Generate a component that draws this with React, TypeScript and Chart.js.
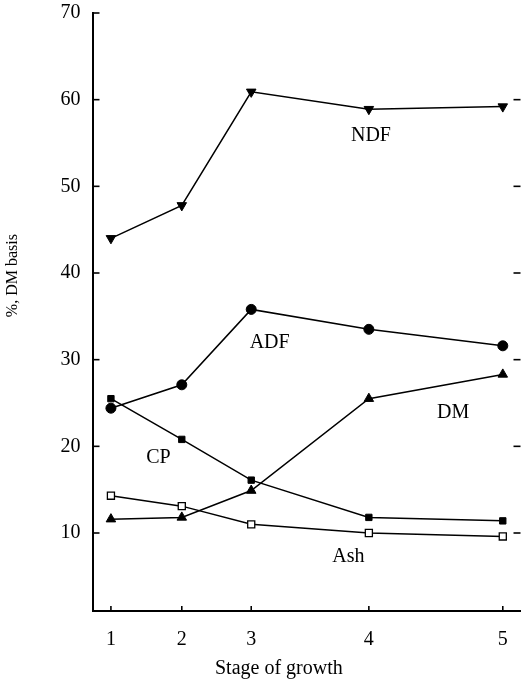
import React, { useEffect, useRef } from "react";
import { Chart, registerables } from "chart.js";

Chart.register(...registerables);

// Stage positions on the (non-uniform) growth axis, and their labels
const stageX = [1, 2, 2.98, 4.64, 6.53];
const stageLabels = ["1", "2", "3", "4", "5"];

// Series values (% DM basis)
const ndf = [44.0, 47.8, 60.9, 58.9, 59.2];
const adf = [24.4, 27.1, 35.8, 33.5, 31.6];
const cp = [25.5, 20.8, 16.1, 11.8, 11.4];
const dm = [11.6, 11.8, 14.9, 25.5, 28.3];
const ash = [14.3, 13.1, 11.0, 10.0, 9.6];

const yTicks = [10, 20, 30, 40, 50, 60, 70];

// Series annotation labels, in data coordinates
const seriesLabels = [
  { text: "NDF", x: 4.67, y: 55.8 },
  { text: "ADF", x: 3.24, y: 31.9 },
  { text: "DM", x: 5.83, y: 23.9 },
  { text: "CP", x: 1.67, y: 18.7 },
  { text: "Ash", x: 4.35, y: 7.3 },
];

const xTitle = "Stage of growth";
const xTitleAt = 3.37;
const yTitle = "%, DM basis";
const yTitleAt = 39.7;

const FONT = "'Liberation Serif', 'Times New Roman', serif";

const pts = (vals: number[]) => vals.map((v, i) => ({ x: stageX[i], y: v }));

export default function App() {
  const ref = useRef<HTMLCanvasElement | null>(null);

  useEffect(() => {
    if (!ref.current) return;

    const decor = {
      id: "decor",
      afterDraw(chart: any) {
        const ctx = chart.ctx;
        const { left, right, bottom } = chart.chartArea;
        const xs = chart.scales.x;
        const ys = chart.scales.y;
        ctx.save();
        ctx.strokeStyle = "#000";
        ctx.lineWidth = 1.6;
        // inward y ticks (left and right)
        yTicks.forEach((v) => {
          const py = ys.getPixelForValue(v);
          ctx.beginPath();
          ctx.moveTo(left, py);
          ctx.lineTo(left + 7, py);
          ctx.stroke();
          if (v < 70) {
            ctx.beginPath();
            ctx.moveTo(right, py);
            ctx.lineTo(right - 7, py);
            ctx.stroke();
          }
        });
        // inward x ticks
        stageX.forEach((v) => {
          const px = xs.getPixelForValue(v);
          ctx.beginPath();
          ctx.moveTo(px, bottom);
          ctx.lineTo(px, bottom - 5);
          ctx.stroke();
        });
        // series labels
        ctx.fillStyle = "#000";
        ctx.font = `20px ${FONT}`;
        ctx.textAlign = "center";
        ctx.textBaseline = "middle";
        seriesLabels.forEach((l) => {
          ctx.fillText(l.text, xs.getPixelForValue(l.x), ys.getPixelForValue(l.y));
        });
        // x title
        ctx.font = `20px ${FONT}`;
        ctx.fillText(xTitle, xs.getPixelForValue(xTitleAt), bottom + 58);
        // y title
        ctx.font = `16px ${FONT}`;
        ctx.translate(13, ys.getPixelForValue(yTitleAt));
        ctx.rotate(-Math.PI / 2);
        ctx.fillText(yTitle, 0, 0);
        ctx.restore();
      },
    };

    const common = {
      borderColor: "#000",
      borderWidth: 1.5,
      pointBorderColor: "#000",
      pointBackgroundColor: "#000",
      pointBorderWidth: 1,
      tension: 0,
      fill: false,
    };

    const chart = new Chart(ref.current, {
      type: "line",
      data: {
        datasets: [
          { ...common, label: "NDF", data: pts(ndf), pointStyle: "triangle", pointRotation: 180, pointRadius: 5.5 },
          { ...common, label: "ADF", data: pts(adf), pointStyle: "circle", pointRadius: 5 },
          { ...common, label: "CP", data: pts(cp), pointStyle: "rect", pointRadius: 4.5 },
          { ...common, label: "DM", data: pts(dm), pointStyle: "triangle", pointRadius: 5.5 },
          { ...common, label: "Ash", data: pts(ash), pointStyle: "rect", pointRadius: 5, pointBackgroundColor: "#fff", pointBorderWidth: 1.3 },
        ],
      },
      options: {
        animation: false,
        responsive: false,
        maintainAspectRatio: false,
        layout: { padding: { top: 13, right: 0, left: 0, bottom: 0 } },
        plugins: { legend: { display: false }, tooltip: { enabled: false }, title: { display: false } },
        scales: {
          x: {
            type: "linear",
            min: 0.74,
            max: 6.78,
            afterBuildTicks: (scale: any) => {
              scale.ticks = stageX.map((v) => ({ value: v }));
            },
            afterFit: (scale: any) => {
              scale.height = 72;
              scale.paddingLeft = 0;
              scale.paddingRight = 0;
            },
            grid: { display: false, drawTicks: false },
            border: { display: true, color: "#000", width: 2 },
            ticks: {
              color: "#000",
              font: { family: FONT, size: 20 },
              padding: 17,
              maxRotation: 0,
              autoSkip: false,
              callback: (_v: any, i: number) => stageLabels[i],
            },
          },
          y: {
            type: "linear",
            min: 1,
            max: 70,
            afterBuildTicks: (scale: any) => {
              scale.ticks = yTicks.map((v) => ({ value: v }));
            },
            afterFit: (scale: any) => {
              scale.width = 92.5;
              scale.paddingTop = 0;
              scale.paddingBottom = 0;
            },
            grid: { display: false, drawTicks: false },
            border: { display: true, color: "#000", width: 2 },
            ticks: {
              color: "#000",
              font: { family: FONT, size: 20 },
              padding: 12,
              autoSkip: false,
            },
          },
        },
      },
      plugins: [decor],
    } as any);

    return () => chart.destroy();
  }, []);

  return (
    <div style={{ position: "absolute", left: 0, top: 0, width: 527, height: 683, background: "#fff" }}>
      <canvas ref={ref} width={527} height={683} style={{ display: "block", width: 527, height: 683 }} />
    </div>
  );
}
